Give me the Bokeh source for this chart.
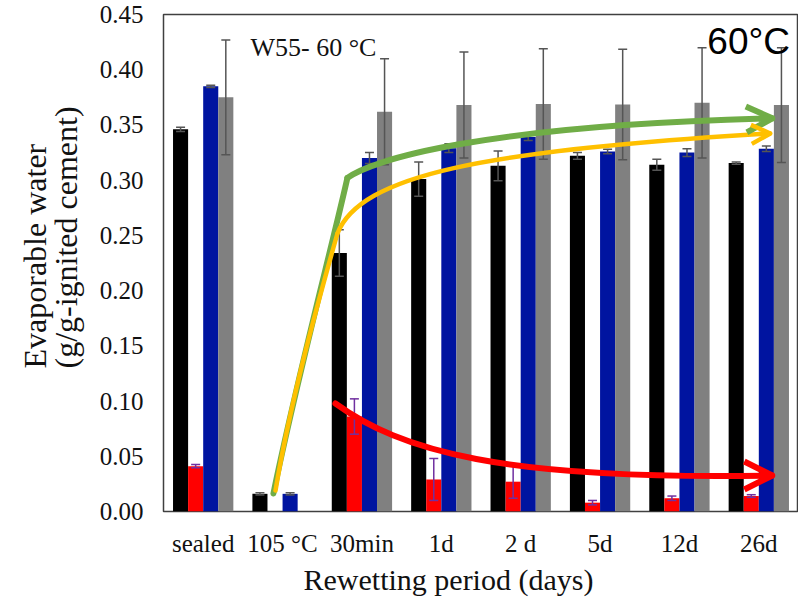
import numpy as np
from bokeh.plotting import figure
from bokeh.models import (ColumnDataSource, FixedTicker, NumeralTickFormatter, Label,
                          Range1d, Arrow, OpenHead, Title)
from bokeh.embed import file_html
from bokeh.resources import INLINE

nan = float("nan")

# ---------------- data ----------------
categories = ["sealed", "105 °C", "30min", "1d", "2 d", "5d", "12d", "26d"]
black = [0.346, 0.016, 0.234, 0.301, 0.313, 0.322, 0.314, 0.3155]
black_err = [0.002, 0.001, 0.021, 0.0155, 0.0135, 0.003, 0.005, 0.001]
red = [0.041, nan, 0.086, 0.029, 0.027, 0.008, 0.012, 0.014]
red_err = [0.0015, nan, 0.016, 0.019, 0.015, 0.002, 0.002, 0.0012]
blue = [0.385, 0.016, 0.320, 0.329, 0.339, 0.326, 0.325, 0.3285]
blue_err = [0.001, 0.001, 0.005, 0.004, 0.003, 0.002, 0.0035, 0.0025]
grey = [0.375, nan, 0.362, 0.368, 0.369, 0.3685, 0.370, 0.368]
grey_err = [0.052, nan, 0.048, 0.048, 0.050, 0.050, 0.050, 0.052]
y_ticks = [0.00, 0.05, 0.10, 0.15, 0.20, 0.25, 0.30, 0.35, 0.40, 0.45]

SERIF = "Liberation Serif"

p = figure(width=798, height=600, output_backend="svg", toolbar_location=None,
           x_range=Range1d(-0.5, 7.5), y_range=Range1d(0, 0.45),
           min_border_left=163, min_border_right=0, min_border_top=14, min_border_bottom=89)
p.xgrid.visible = False
p.ygrid.visible = False
p.outline_line_color = "#404040"
p.outline_line_width = 1.5
p.background_fill_color = "white"
p.border_fill_color = "white"

# axes
yax = p.yaxis[0]
xax = p.xaxis[0]
yax.ticker = FixedTicker(ticks=y_ticks)
yax.formatter = NumeralTickFormatter(format="0.00")
xax.ticker = FixedTicker(ticks=list(range(len(categories))))
xax.major_label_overrides = {i: c for i, c in enumerate(categories)}
for ax in (xax, yax):
    ax.axis_line_color = None
    ax.major_tick_line_color = None
    ax.minor_tick_line_color = None
    ax.major_tick_out = 0
    ax.major_tick_in = 0
    ax.major_label_text_font = SERIF
    ax.major_label_text_color = "#111111"
yax.major_label_text_font_size = "25px"
xax.major_label_text_font_size = "25px"
yax.major_label_standoff = 20
xax.major_label_standoff = 18

idx = np.arange(len(categories))
offsets = [-0.285, -0.095, 0.095, 0.285]
series = [(black, black_err, "#000000", "#555555"),
          (red, red_err, "#FF0000", "#7030A0"),
          (blue, blue_err, "#0014A0", "#555555"),
          (grey, grey_err, "#808080", "#555555")]

err_sources = []
for (vals, errs, col, ecol), off in zip(series, offsets):
    v = np.array(vals, dtype=float)
    e = np.array(errs, dtype=float)
    ok = ~np.isnan(v)
    x = (idx + off)[ok]
    src = ColumnDataSource(dict(x=x, top=v[ok], lower=(v - e)[ok], upper=(v + e)[ok]))
    p.vbar(x="x", top="top", width=0.19, source=src, fill_color=col, line_color=None)
    err_sources.append((src, ecol))

for src, ecol in err_sources:
    p.segment(x0="x", y0="lower", x1="x", y1="upper", source=src,
              line_color=ecol, line_width=1.5)
    p.scatter(x="x", y="upper", source=src, marker="dash", size=9,
              line_color=ecol, line_width=1.5)
    p.scatter(x="x", y="lower", source=src, marker="dash", size=9,
              line_color=ecol, line_width=1.5)

# ---------------- trend arrows (annotation paths) ----------------
GREEN, YELLOW, RED = "#70AD47", "#FFC000", "#FF0000"
p.bezier(x0=[0.885, 1.817], y0=[0.0163, 0.302],
         x1=[1.817, 7.17], y1=[0.302, 0.356],
         cx0=[1.162, 2.107], cy0=[0.114, 0.3178],
         cx1=[1.641, 3.492], cy1=[0.2454, 0.3495],
         line_color=GREEN, line_width=6, line_cap="round")
p.bezier(x0=[0.911, 1.691], y0=[0.019, 0.2517],
         x1=[1.691, 7.145], y1=[0.2517, 0.3423],
         cx0=[1.10, 1.981], cy0=[0.1005, 0.3042],
         cx1=[1.452, 3.492], cy1=[0.191, 0.3269],
         line_color=YELLOW, line_width=4.5, line_cap="round")
p.bezier(x0=[1.666], y0=[0.0978], x1=[7.17], y1=[0.0326],
         cx0=[2.485], cy0=[0.0552], cx1=[3.744], cy1=[0.0281],
         line_color=RED, line_width=6, line_cap="round")

p.add_layout(Arrow(end=OpenHead(size=26, line_color=GREEN, line_width=6),
                   x_start=7.0, y_start=0.3555, x_end=7.17, y_end=0.356,
                   line_color=GREEN, line_width=6))
p.add_layout(Arrow(end=OpenHead(size=19, line_color=YELLOW, line_width=4.5),
                   x_start=7.0, y_start=0.3418, x_end=7.145, y_end=0.3423,
                   line_color=YELLOW, line_width=4.5))
p.add_layout(Arrow(end=OpenHead(size=28, line_color=RED, line_width=6),
                   x_start=7.0, y_start=0.0326, x_end=7.17, y_end=0.0326,
                   line_color=RED, line_width=6))

# ---------------- texts ----------------
p.add_layout(Label(x=0.596, y=0.420, text="W55- 60 °C", text_font=SERIF,
                   text_font_size="26px", text_color="#111111",
                   text_align="left", text_baseline="alphabetic"))
p.add_layout(Label(x=6.351, y=0.4256, text="60°C", text_font="Liberation Sans",
                   text_font_size="37px", text_color="#000000",
                   text_align="left", text_baseline="alphabetic"))

p.add_layout(Title(text="Rewetting period (days)", align="left", offset=140,
                   text_font=SERIF, text_font_size="30px", text_font_style="normal",
                   text_color="#111111", standoff=3), "below")
p.add_layout(Title(text="Evaporable water\n(g/g-ignited  cement)", align="left", offset=143,
                   text_font=SERIF, text_font_size="32px", text_font_style="normal",
                   text_color="#111111", text_line_height=0.85, standoff=25), "left")

open("out.html", "w").write(file_html(p, INLINE))
